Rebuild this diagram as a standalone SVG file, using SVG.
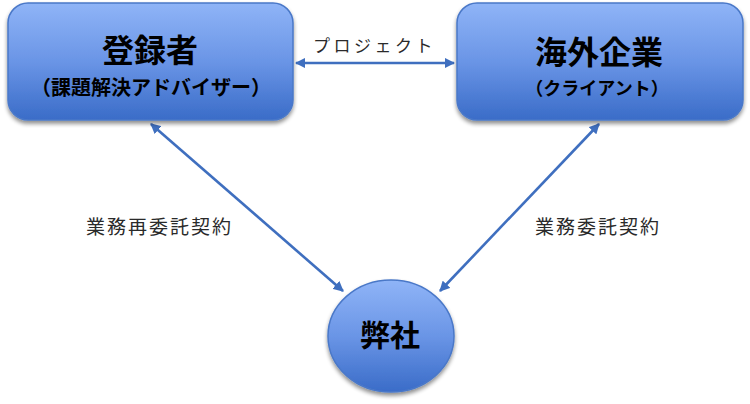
<svg xmlns="http://www.w3.org/2000/svg" width="750" height="404" viewBox="0 0 750 404">
<defs>
<linearGradient id="g" x1="0" y1="0" x2="0" y2="1">
<stop offset="0" stop-color="#8fb4f7"/>
<stop offset="0.5" stop-color="#6a95e6"/>
<stop offset="1" stop-color="#3a6cc8"/>
</linearGradient>
<filter id="sh" x="-10%" y="-10%" width="120%" height="130%">
<feGaussianBlur in="SourceAlpha" stdDeviation="2"/>
<feOffset dx="0" dy="3" result="b"/>
<feComponentTransfer><feFuncA type="linear" slope="0.45"/></feComponentTransfer>
<feMerge><feMergeNode/><feMergeNode in="SourceGraphic"/></feMerge>
</filter>
<marker id="ah" viewBox="0 0 10 10" refX="9" refY="5" markerWidth="4" markerHeight="4" orient="auto-start-reverse" markerUnits="strokeWidth">
<path d="M0,0 L10,5 L0,10 z" fill="#3f6fbf"/>
</marker>
</defs>
<style>
.node{fill:url(#g);stroke:#4a78c8;stroke-width:1.5;filter:url(#sh)}
.t{font-family:"Noto Sans CJK JP","Noto Sans",sans-serif;fill:#000;text-anchor:middle;font-weight:bold}
.big{font-size:32px}
.lbl{font-family:"Noto Sans CJK JP","Noto Sans",sans-serif;fill:#2a2a2a}
.c{stroke:#3f6fbf;stroke-width:2.6;fill:none}
</style>
<rect width="750" height="404" fill="#fff"/>
<g id="connectors">
<line class="c" x1="296" y1="63" x2="454" y2="63" marker-start="url(#ah)" marker-end="url(#ah)"/>
<line class="c" x1="151" y1="124" x2="343" y2="291" marker-start="url(#ah)" marker-end="url(#ah)"/>
<line class="c" x1="599" y1="124" x2="440" y2="291" marker-start="url(#ah)" marker-end="url(#ah)"/>
</g>
<g id="registrant">
<rect class="node" x="8" y="3" width="285" height="117" rx="20" ry="20"/>
<text class="t big" x="150" y="62">登録者</text>
<text class="t" x="151" y="95" font-size="20">（課題解決アドバイザー）</text>
</g>
<g id="client">
<rect class="node" x="457" y="3" width="286" height="117" rx="20" ry="20"/>
<text class="t big" x="599" y="64">海外企業</text>
<text class="t" x="597" y="95" font-size="18">（クライアント）</text>
</g>
<g id="company">
<ellipse class="node" cx="391" cy="336" rx="63" ry="56"/>
<text class="t" x="390" y="346" font-size="30">弊社</text>
</g>
<g id="labels">
<text class="lbl" x="313" y="52" font-size="17" letter-spacing="3.5">プロジェクト</text>
<text class="lbl" x="86" y="234" font-size="19" letter-spacing="2">業務再委託契約</text>
<text class="lbl" x="535" y="234" font-size="19" letter-spacing="2">業務委託契約</text>
</g>
</svg>
